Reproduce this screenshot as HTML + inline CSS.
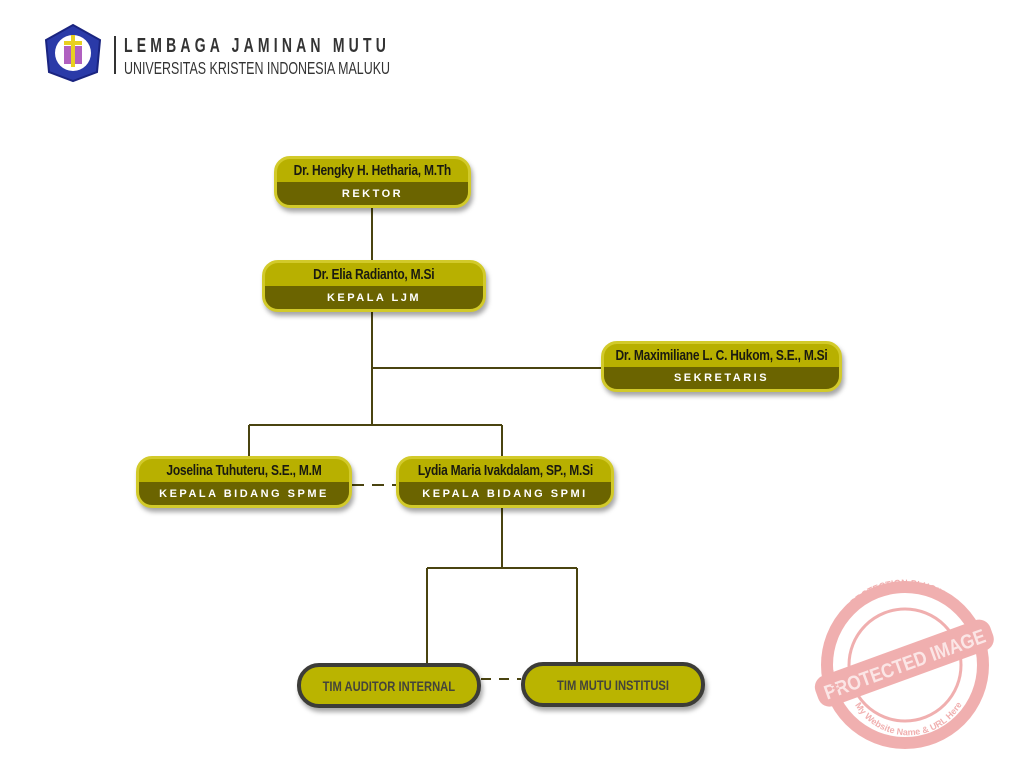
<!DOCTYPE html>
<html><head><meta charset="utf-8">
<style>
html,body{margin:0;padding:0;background:#fff;}
body{width:1024px;height:768px;position:relative;overflow:hidden;font-family:"Liberation Sans",sans-serif;}
.n{position:absolute;box-sizing:border-box;border:3px solid #d2ca2a;border-radius:16px;background:#b8b000;overflow:hidden;box-shadow:2px 4px 5px rgba(0,0,0,0.35);}
.n .t{height:50%;display:flex;align-items:center;justify-content:center;}
.n .t span{display:inline-block;font-weight:bold;font-size:15px;color:#1a1a10;letter-spacing:-0.3px;transform:scaleX(0.8);white-space:nowrap;}
.n .b{height:50%;background:#6b6400;display:flex;align-items:center;justify-content:center;color:#fff;font-weight:bold;font-size:11px;letter-spacing:2.5px;}
.m{position:absolute;box-sizing:border-box;border:4px solid #3c3c38;border-radius:22px;background:#bab400;display:flex;align-items:center;justify-content:center;box-shadow:2px 4px 5px rgba(0,0,0,0.35);}
.m span{display:inline-block;font-weight:bold;font-size:14px;color:#44443a;transform:scaleX(0.8);white-space:nowrap;}
</style></head><body>
<svg width="1024" height="768" style="position:absolute;left:0;top:0">
<g stroke="#4a4410" stroke-width="2" fill="none">
<line x1="372" y1="208" x2="372" y2="260"/>
<line x1="372" y1="312" x2="372" y2="425"/>
<line x1="372" y1="368" x2="602" y2="368"/>
<line x1="249" y1="425" x2="502" y2="425"/>
<line x1="249" y1="425" x2="249" y2="456"/>
<line x1="502" y1="425" x2="502" y2="456"/>
<line x1="352" y1="485" x2="396" y2="485" stroke-dasharray="12,8"/>
<line x1="502" y1="508" x2="502" y2="568"/>
<line x1="427" y1="568" x2="577" y2="568"/>
<line x1="427" y1="568" x2="427" y2="664"/>
<line x1="577" y1="568" x2="577" y2="664"/>
<line x1="481" y1="679" x2="521" y2="679" stroke-dasharray="10,8"/>
</g>
<polygon points="73,25 100,40 97,72 73,81 49,72 46,40" fill="#2a3aa8" stroke="#1a2480" stroke-width="2"/>
<circle cx="73" cy="53" r="18" fill="#fff"/>
<rect x="64" y="46" width="18" height="18" fill="#b060c0"/>
<rect x="71" y="35" width="4" height="32" fill="#e8d020"/>
<rect x="64" y="41" width="18" height="4" fill="#e8d020"/>
<line x1="115" y1="36" x2="115" y2="74" stroke="#333" stroke-width="2"/>
<text x="124" y="52" font-family="Liberation Sans" font-weight="bold" font-size="20" fill="#333" letter-spacing="6" textLength="266" lengthAdjust="spacingAndGlyphs">LEMBAGA JAMINAN MUTU</text>
<text x="124" y="74" font-family="Liberation Sans" font-size="17.5" fill="#333" textLength="266" lengthAdjust="spacingAndGlyphs">UNIVERSITAS KRISTEN INDONESIA MALUKU</text>
<g opacity="0.45">
<circle cx="905" cy="665" r="78" fill="none" stroke="#e05050" stroke-width="12"/>
<circle cx="905" cy="665" r="56" fill="none" stroke="#e05050" stroke-width="3"/>
<g transform="rotate(-20 905 665)">
<rect x="812" y="647" width="186" height="32" rx="12" fill="#e05050"/>
<text x="905" y="671" text-anchor="middle" font-family="Liberation Sans" font-weight="bold" font-size="20" fill="#f8c8c8" textLength="170" lengthAdjust="spacingAndGlyphs">PROTECTED IMAGE</text>
</g>
<path id="arc" d="M840,690 A68,68 0 0 1 968,625" fill="none"/>
<text font-family="Liberation Sans" font-weight="bold" font-size="9" fill="#e05050"><textPath href="#arc">WP CONTENT COPY PROTECTION PLUGIN</textPath></text>
<path id="arc2" d="M855,705 A62,62 0 0 0 968,690" fill="none"/>
<text font-family="Liberation Sans" font-weight="bold" font-size="9" fill="#e05050"><textPath href="#arc2">My Website Name &amp; URL Here</textPath></text>
</g>
</svg>

<div class="n" style="left:274px;top:156px;width:197px;height:52px"><div class="t"><span>Dr. Hengky H. Hetharia, M.Th</span></div><div class="b">REKTOR</div></div>
<div class="n" style="left:262px;top:260px;width:224px;height:52px"><div class="t"><span>Dr. Elia Radianto, M.Si</span></div><div class="b">KEPALA LJM</div></div>
<div class="n" style="left:601px;top:341px;width:241px;height:51px"><div class="t"><span>Dr. Maximiliane L. C. Hukom, S.E., M.Si</span></div><div class="b">SEKRETARIS</div></div>
<div class="n" style="left:136px;top:456px;width:216px;height:52px"><div class="t"><span>Joselina Tuhuteru, S.E., M.M</span></div><div class="b">KEPALA BIDANG SPME</div></div>
<div class="n" style="left:396px;top:456px;width:218px;height:52px"><div class="t"><span>Lydia Maria Ivakdalam, SP., M.Si</span></div><div class="b">KEPALA BIDANG SPMI</div></div>
<div class="m" style="left:297px;top:663px;width:184px;height:45px"><span>TIM AUDITOR INTERNAL</span></div>
<div class="m" style="left:521px;top:662px;width:184px;height:45px"><span>TIM MUTU INSTITUSI</span></div>
</body></html>
